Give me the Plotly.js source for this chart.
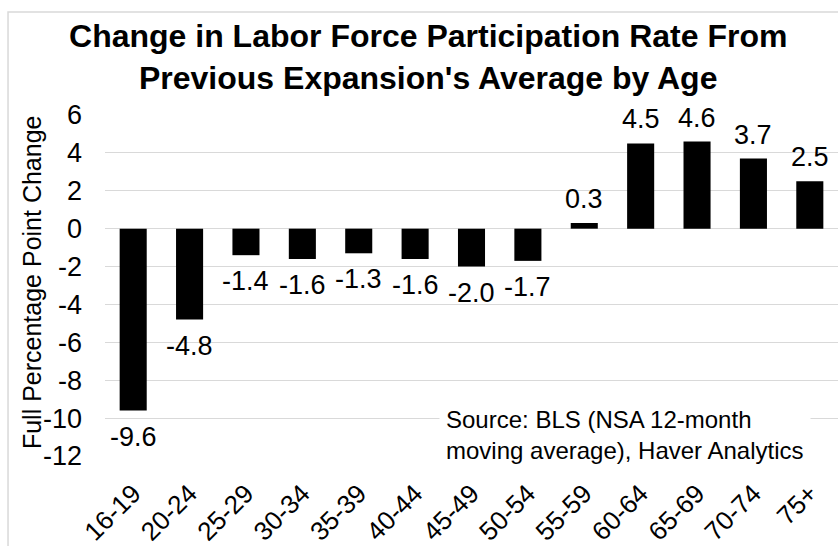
<!DOCTYPE html>
<html>
<head>
<meta charset="utf-8">
<script src="https://cdn.plot.ly/plotly-3.0.1.min.js"></script>
<style>html,body{margin:0;padding:0;background:#fff;} #chart{width:838px;height:546px;}</style>
</head>
<body>
<div id="chart"></div>
<script>
var ageGroups = ["16-19","20-24","25-29","30-34","35-39","40-44","45-49","50-54","55-59","60-64","65-69","70-74","75+"];
var changeValues = [-9.6,-4.8,-1.4,-1.6,-1.3,-1.6,-2.0,-1.7,0.3,4.5,4.6,3.7,2.5];
var valueLabels = changeValues.map(function(v){ return v.toFixed(1); });
var yTickValues = [-12,-10,-8,-6,-4,-2,0,2,4,6];

var FONT = "Liberation Sans, Arial, sans-serif";

var trace = {
  type: "bar",
  x: ageGroups,
  y: changeValues,
  marker: {color: "#000", line: {width: 0}},
  width: 0.48,
  hoverinfo: "x+y"
};

var labelAnnotations = ageGroups.map(function(cat, i){
  var v = changeValues[i];
  return {
    x: cat, y: v, xref: "x", yref: "y",
    text: valueLabels[i],
    showarrow: false,
    xanchor: "center",
    yanchor: v >= 0 ? "bottom" : "top",
    yshift: v >= 0 ? 7 : -9,
    font: {family: FONT, size: 27, color: "#000"}
  };
});

var layout = {
  width: 838,
  height: 546,
  margin: {l: 105, r: 0, t: 115, b: 90},
  paper_bgcolor: "#fff",
  plot_bgcolor: "#fff",
  showlegend: false,
  font: {family: FONT, color: "#000"},
  title: {
    text: "<b>Change in Labor Force Participation Rate From<br>Previous Expansion's Average by Age</b>",
    font: {family: FONT, size: 32, color: "#000"},
    x: 0.511, xref: "container", xanchor: "center",
    y: 0.914, yref: "container", yanchor: "top"
  },
  xaxis: {
    type: "category",
    tickangle: -45,
    tickfont: {family: FONT, size: 26, color: "#000"},
    showgrid: false,
    showline: false,
    zeroline: false,
    ticks: "",
    ticklabelstandoff: 16
  },
  yaxis: {
    range: [-12, 6],
    tickvals: yTickValues,
    ticktext: yTickValues.map(String),
    tickfont: {family: FONT, size: 27, color: "#000"},
    showgrid: true,
    gridcolor: "#d9d9d9",
    gridwidth: 1,
    zeroline: true,
    zerolinecolor: "#d9d9d9",
    zerolinewidth: 1,
    showline: false,
    ticks: "",
    ticklabelstandoff: 22
  },
  annotations: [
    {
      text: "Full Percentage Point Change",
      textangle: -90,
      xref: "paper", yref: "paper",
      x: -0.0996, y: 0.51,
      xanchor: "center", yanchor: "middle",
      showarrow: false,
      font: {family: FONT, size: 25, color: "#000"}
    },
    {
      text: "Source: BLS (NSA 12-month<br>moving average), Haver Analytics",
      xref: "paper", yref: "paper",
      x: 0.455, y: 0.062,
      xanchor: "left", yanchor: "middle",
      align: "left",
      showarrow: false,
      bgcolor: "#fff",
      borderpad: 6,
      font: {family: FONT, size: 24, color: "#000"}
    }
  ].concat(labelAnnotations),
  shapes: [
    {
      type: "rect", xref: "paper", yref: "paper",
      x0: -0.1323, x1: 1.02, y0: -0.3, y1: 1.302,
      line: {color: "#d9d9d9", width: 1.5},
      fillcolor: "rgba(0,0,0,0)",
      layer: "below"
    }
  ]
};

Plotly.newPlot("chart", [trace], layout, {displayModeBar: false, staticPlot: true});
</script>
</body>
</html>
